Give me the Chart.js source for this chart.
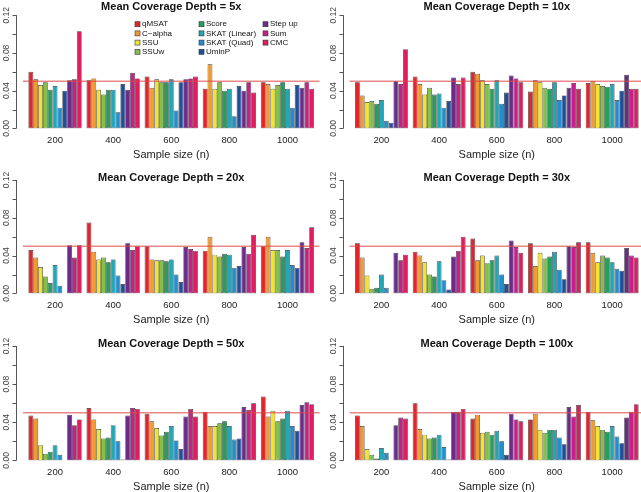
<!DOCTYPE html>
<html>
<head>
<meta charset="utf-8">
<script src="https://cdn.jsdelivr.net/npm/chart.js@4.4.0/dist/chart.umd.min.js"></script>
<style>
  html, body { margin: 0; padding: 0; background: #fff; }
  #wrap { position: relative; width: 641px; height: 492px; }
  #wrap canvas { position: absolute; }
</style>
</head>
<body>
<div id="wrap"></div>
<script>
// Sample sizes (groups on the x axis)
var sampleSizes = ['200', '400', '600', '800', '1000'];

// Methods (one bar per method in each group)
var methods = ['qMSAT', 'C\u2212alpha', 'SSU', 'SSUw', 'Score', 'SKAT (Linear)',
               'SKAT (Quad)', 'UminP', 'Step up', 'Sum', 'CMC'];
var methodColors = ['#e3242b', '#f29a2e', '#f1e42a', '#86bf4b', '#1fa25a', '#22a7b7',
                    '#1e8fd2', '#1f4e9b', '#6c2b8b', '#cd1d8d', '#e21c5e'];

// Panel titles
var depths = ['5x', '10x', '20x', '30x', '50x', '100x'];

// Y axis ticks and labels
var yTicks = [0, 0.02, 0.04, 0.06, 0.08, 0.10, 0.12];
var yTickLabels = ['0.00', '', '0.04', '', '0.08', '', '0.12'];
var alphaLevel = 0.05;

// Type I error rates: one row per sample size, one value per method
var depth5x = [
  [0.060, 0.052, 0.046, 0.049, 0.041, 0.045, 0.022, 0.040, 0.051, 0.052, 0.103],
  [0.051, 0.053, 0.041, 0.036, 0.041, 0.041, 0.017, 0.047, 0.041, 0.059, 0.053],
  [0.055, 0.043, 0.052, 0.049, 0.049, 0.052, 0.019, 0.049, 0.052, 0.053, 0.055],
  [0.042, 0.068, 0.042, 0.049, 0.040, 0.042, 0.013, 0.045, 0.040, 0.049, 0.038],
  [0.049, 0.047, 0.042, 0.046, 0.049, 0.042, 0.022, 0.046, 0.043, 0.049, 0.042]
];
var depth10x = [
  [0.049, 0.035, 0.028, 0.029, 0.026, 0.030, 0.008, 0.006, 0.050, 0.047, 0.084],
  [0.055, 0.047, 0.036, 0.043, 0.036, 0.037, 0.022, 0.029, 0.054, 0.047, 0.054],
  [0.060, 0.058, 0.051, 0.047, 0.042, 0.051, 0.026, 0.038, 0.056, 0.053, 0.049],
  [0.039, 0.051, 0.049, 0.043, 0.042, 0.049, 0.030, 0.035, 0.043, 0.048, 0.042],
  [0.048, 0.050, 0.047, 0.045, 0.044, 0.047, 0.030, 0.040, 0.057, 0.042, 0.042]
];
var depth20x = [
  [0.046, 0.038, 0.028, 0.018, 0.011, 0.030, 0.008, 0.000, 0.051, 0.038, 0.051],
  [0.075, 0.044, 0.036, 0.038, 0.033, 0.036, 0.019, 0.010, 0.053, 0.046, 0.050],
  [0.050, 0.036, 0.035, 0.035, 0.034, 0.036, 0.020, 0.012, 0.049, 0.047, 0.045],
  [0.045, 0.060, 0.041, 0.039, 0.042, 0.041, 0.027, 0.029, 0.049, 0.042, 0.062],
  [0.050, 0.060, 0.046, 0.046, 0.039, 0.046, 0.030, 0.027, 0.054, 0.048, 0.070]
];
var depth30x = [
  [0.053, 0.038, 0.019, 0.005, 0.006, 0.020, 0.006, 0.000, 0.043, 0.035, 0.041],
  [0.044, 0.040, 0.033, 0.020, 0.018, 0.034, 0.014, 0.004, 0.039, 0.045, 0.060],
  [0.058, 0.035, 0.040, 0.032, 0.035, 0.040, 0.020, 0.010, 0.056, 0.049, 0.043],
  [0.053, 0.029, 0.043, 0.037, 0.039, 0.044, 0.025, 0.015, 0.050, 0.049, 0.054],
  [0.054, 0.043, 0.033, 0.040, 0.038, 0.033, 0.026, 0.024, 0.048, 0.040, 0.038]
];
var depth50x = [
  [0.047, 0.044, 0.016, 0.007, 0.009, 0.016, 0.006, 0.000, 0.048, 0.037, 0.043],
  [0.055, 0.043, 0.033, 0.023, 0.024, 0.037, 0.020, 0.001, 0.047, 0.055, 0.054],
  [0.049, 0.041, 0.034, 0.026, 0.030, 0.036, 0.021, 0.012, 0.046, 0.054, 0.046],
  [0.051, 0.036, 0.036, 0.039, 0.041, 0.036, 0.022, 0.023, 0.056, 0.053, 0.060],
  [0.067, 0.046, 0.052, 0.041, 0.044, 0.052, 0.036, 0.031, 0.058, 0.061, 0.059]
];
var depth100x = [
  [0.047, 0.036, 0.012, 0.006, 0.002, 0.013, 0.008, 0.000, 0.037, 0.045, 0.044],
  [0.060, 0.033, 0.027, 0.023, 0.024, 0.027, 0.014, 0.001, 0.051, 0.051, 0.054],
  [0.044, 0.048, 0.029, 0.030, 0.027, 0.031, 0.020, 0.006, 0.049, 0.043, 0.041],
  [0.043, 0.049, 0.032, 0.029, 0.032, 0.032, 0.024, 0.017, 0.056, 0.046, 0.058],
  [0.051, 0.042, 0.036, 0.032, 0.030, 0.036, 0.025, 0.018, 0.045, 0.051, 0.059]
];
var panelData = [depth5x, depth10x, depth20x, depth30x, depth50x, depth100x];

// Where each panel sits on the page
var panelBoxes = [
  {x: 0,   y: 0,   w: 320, h: 160},
  {x: 320, y: 0,   w: 321, h: 160},
  {x: 0,   y: 160, w: 320, h: 165},
  {x: 320, y: 160, w: 321, h: 165},
  {x: 0,   y: 325, w: 320, h: 167},
  {x: 320, y: 325, w: 321, h: 167}
];
var colPadding = [{left: 26, right: 3.5}, {left: 32.6, right: 0}];
var titlePadding = [{top: 0, bottom: 2}, {top: 11.4, bottom: -4.6}, {top: 12.4, bottom: -4.6}];

var FONT = 'Liberation Sans, Arial, Helvetica, sans-serif';
Chart.defaults.font.family = FONT;
Chart.defaults.color = '#111';

// R style y axis: sits a bit left of the bars, rotated labels
var rAxisPlugin = {
  id: 'rAxis',
  afterDraw: function(chart) {
    var ys = chart.scales.y, area = chart.chartArea, ctx = chart.ctx;
    var ax = Math.round(area.left - 10) + 0.5;
    ctx.save();
    ctx.strokeStyle = '#555';
    ctx.lineWidth = 1;
    ctx.beginPath();
    ctx.moveTo(ax, ys.getPixelForValue(yTicks[0]));
    ctx.lineTo(ax, ys.getPixelForValue(yTicks[yTicks.length - 1]));
    yTicks.forEach(function(v) {
      var py = Math.round(ys.getPixelForValue(v)) + 0.5;
      ctx.moveTo(ax - 4, py);
      ctx.lineTo(ax, py);
    });
    ctx.stroke();
    ctx.fillStyle = '#444';
    ctx.font = '8.5px ' + FONT;
    ctx.textAlign = 'center';
    ctx.textBaseline = 'middle';
    yTicks.forEach(function(v, i) {
      if (!yTickLabels[i]) return;
      ctx.save();
      ctx.translate(ax - 10, ys.getPixelForValue(v));
      ctx.rotate(-Math.PI / 2);
      ctx.fillText(yTickLabels[i], 0, 0);
      ctx.restore();
    });
    ctx.restore();
  }
};

// Horizontal line at the nominal level
var alphaLinePlugin = {
  id: 'alphaLine',
  afterDatasetsDraw: function(chart) {
    var ys = chart.scales.y, area = chart.chartArea, ctx = chart.ctx;
    var py = ys.getPixelForValue(alphaLevel);
    ctx.save();
    ctx.strokeStyle = 'rgba(220, 70, 70, 0.65)';
    ctx.lineWidth = 1.5;
    ctx.beginPath();
    ctx.moveTo(area.left - 3, py);
    ctx.lineTo(area.right + 3, py);
    ctx.stroke();
    ctx.restore();
  }
};

// Legend in three columns inside the first panel
var boxLegendPlugin = {
  id: 'boxLegend',
  afterDraw: function(chart) {
    if (!chart.options.plugins.boxLegend.show) return;
    var area = chart.chartArea, ctx = chart.ctx;
    ctx.save();
    ctx.font = '8px ' + FONT;
    ctx.textBaseline = 'middle';
    ctx.textAlign = 'left';
    chart.data.datasets.forEach(function(ds, i) {
      var col = Math.floor(i / 4), row = i % 4;
      var x = area.left + 109 + col * 64;
      var y = area.top + 9 + row * 9.2;
      ctx.fillStyle = ds.backgroundColor;
      ctx.fillRect(x, y - 2.5, 5, 5);
      ctx.strokeStyle = '#333';
      ctx.lineWidth = 0.6;
      ctx.strokeRect(x, y - 2.5, 5, 5);
      ctx.fillStyle = '#111';
      ctx.fillText(ds.label, x + 7, y);
    });
    ctx.restore();
  }
};

var wrap = document.getElementById('wrap');

panelData.forEach(function(rows, p) {
  var box = panelBoxes[p];
  var canvas = document.createElement('canvas');
  canvas.width = box.w;
  canvas.height = box.h;
  canvas.style.left = box.x + 'px';
  canvas.style.top = box.y + 'px';
  wrap.appendChild(canvas);

  var datasets = methods.map(function(m, j) {
    return {
      label: m,
      data: rows.map(function(r) { return r[j]; }),
      backgroundColor: methodColors[j],
      borderColor: '#333',
      borderWidth: 0.7,
      borderSkipped: false,
      categoryPercentage: 11 / 12,
      barPercentage: 1
    };
  });

  new Chart(canvas.getContext('2d'), {
    type: 'bar',
    data: { labels: sampleSizes, datasets: datasets },
    options: {
      responsive: false,
      animation: false,
      layout: { padding: { left: colPadding[p % 2].left, right: colPadding[p % 2].right, top: 0, bottom: -2 } },
      plugins: {
        legend: { display: false },
        tooltip: { enabled: false },
        title: {
          display: true,
          text: 'Mean Coverage Depth = ' + depths[p],
          fullSize: false,
          font: { size: 11, weight: 'bold' },
          color: '#111',
          padding: titlePadding[Math.floor(p / 2)]
        },
        boxLegend: { show: p === 0 }
      },
      scales: {
        x: {
          offset: true,
          grid: { display: false, drawTicks: false },
          border: { display: false },
          ticks: { padding: 6, font: { size: 9.5 }, color: '#222' },
          title: { display: true, text: 'Sample size (n)', font: { size: 11 }, color: '#222', padding: { top: -3, bottom: 0 } }
        },
        y: {
          display: false,
          min: 0,
          max: 0.12
        }
      }
    },
    plugins: [rAxisPlugin, alphaLinePlugin, boxLegendPlugin]
  });
});
</script>
</body>
</html>
